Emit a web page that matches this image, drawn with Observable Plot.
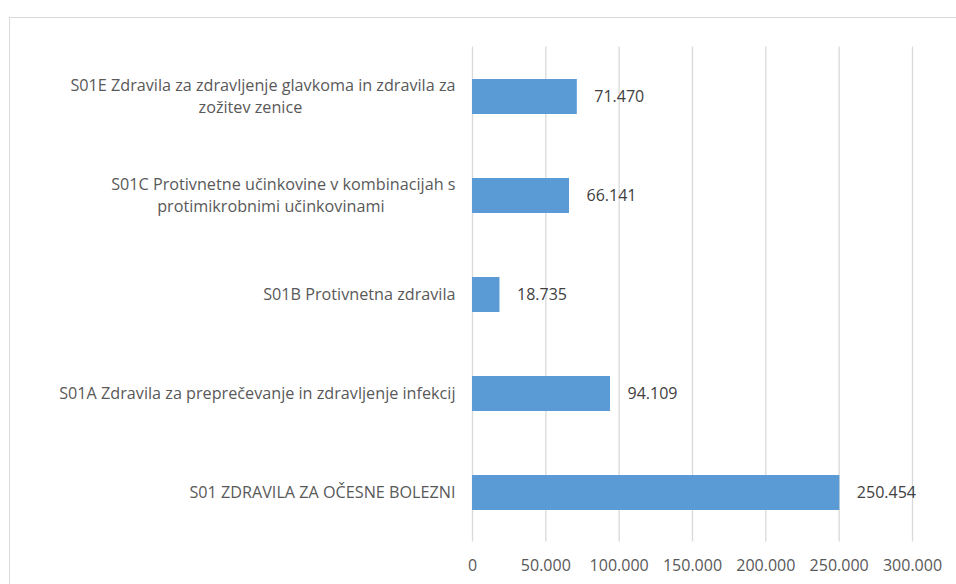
<!DOCTYPE html>
<html>
<head>
<meta charset="utf-8">
<script src="https://cdn.jsdelivr.net/npm/d3@7"></script>
<script src="https://cdn.jsdelivr.net/npm/@observablehq/plot@0.6"></script>
<style>
  html, body { margin: 0; padding: 0; background: #fff; overflow: hidden; }
  #wrap { position: relative; width: 956px; height: 584px; }
  #border { position: absolute; left: 9px; top: 17px; width: 980px; height: 620px; border: 1px solid #d9d9d9; box-sizing: border-box; pointer-events: none; }
  #chart { position: absolute; left: 0; top: 0; }
</style>
</head>
<body>
<div id="wrap">
  <div id="border"></div>
  <div id="chart"></div>
</div>
<script>
// ---- data ----
const categories = [
  "S01E Zdravila za zdravljenje glavkoma in zdravila za zožitev zenice",
  "S01C Protivnetne učinkovine v kombinacijah s protimikrobnimi učinkovinami",
  "S01B Protivnetna zdravila",
  "S01A Zdravila za preprečevanje in zdravljenje infekcij",
  "S01 ZDRAVILA ZA OČESNE BOLEZNI"
];
const labelLines = [
  ["S01E Zdravila za zdravljenje glavkoma in zdravila za", "zožitev zenice"],
  ["S01C Protivnetne učinkovine v kombinacijah s", "protimikrobnimi učinkovinami"],
  ["S01B Protivnetna zdravila"],
  ["S01A Zdravila za preprečevanje in zdravljenje infekcij"],
  ["S01 ZDRAVILA ZA OČESNE BOLEZNI"]
];
const values = [71470, 66141, 18735, 94109, 250454];
const xTicks = [0, 50000, 100000, 150000, 200000, 250000, 300000];

// ---- helpers ----
const loc = d3.formatLocale({decimal: ",", thousands: ".", grouping: [3], currency: ["", " €"]});
const fmt = loc.format(",d");
const FONT = "'Open Sans', Lato, sans-serif";
const FS = 16.2;    // category labels
const FSN = 16;     // numbers
const ctx = document.createElement("canvas").getContext("2d");
ctx.font = `${FS}px 'Open Sans'`;
const measure = s => ctx.measureText(s).width;

const rows = categories.map((c, i) => ({cat: c, value: values[i]}));

// wrapped category label lines
const lineRows = [];
categories.forEach((c, i) => {
  const lines = labelLines[i];
  const lh = 22;
  if (lines.length === 1) {
    lineRows.push({cat: c, text: lines[0], dy: 0, dx: -17, anchor: "end"});
  } else {
    const w1 = measure(lines[0]);
    lineRows.push({cat: c, text: lines[0], dy: -lh / 2, dx: -17, anchor: "end"});
    lineRows.push({cat: c, text: lines[1], dy: lh / 2, dx: -17 - w1 / 2 - 12.5, anchor: "middle"});
  }
});

const plot = Plot.plot({
  width: 956,
  height: 584,
  marginLeft: 472,
  marginRight: 44,
  marginTop: 46.5,
  marginBottom: 42.5,
  style: {fontFamily: FONT, fontSize: FSN + "px", background: "transparent"},
  x: {domain: [0, 300000], ticks: xTicks, tickFormat: fmt, label: null},
  y: {domain: categories, paddingInner: 0.65, paddingOuter: 0.325, axis: null},
  marks: [
    Plot.gridX(xTicks, {stroke: "#d9d9d9", strokeOpacity: 1, strokeWidth: 1.3}),
    Plot.barX(rows, {x: "value", y: "cat", fill: "#5B9BD5"}),
    Plot.text(rows, {x: "value", y: "cat", text: d => fmt(d.value), dx: 17, textAnchor: "start", fill: "#404040", fontSize: FSN}),
    ...lineRows.map(r => Plot.text([r], {
      x: () => 0, y: "cat", text: "text",
      dx: r.dx, dy: r.dy, textAnchor: r.anchor, fill: "#595959", fontSize: FS
    })),
    Plot.axisX(xTicks, {tickSize: 0, tickPadding: 18, color: "#595959", fontSize: FSN, tickFormat: fmt, stroke: null, label: null})
  ]
});

document.getElementById("chart").appendChild(plot);
</script>
</body>
</html>
